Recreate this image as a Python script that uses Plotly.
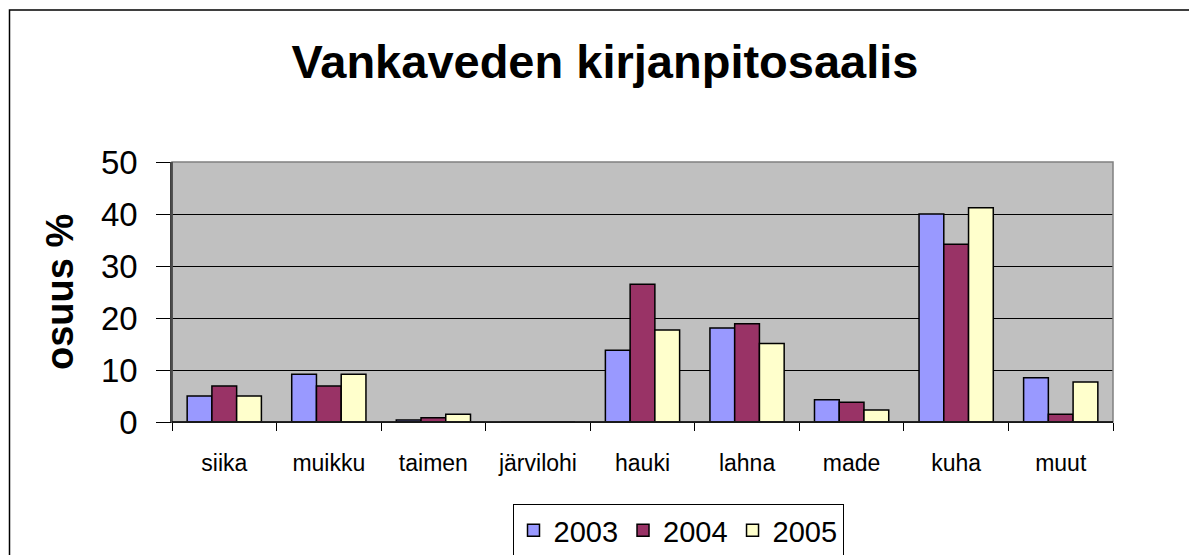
import plotly.graph_objects as go

categories = ["siika", "muikku", "taimen", "järvilohi", "hauki", "lahna", "made", "kuha", "muut"]
v2003 = [5.0, 9.2, 0.4, 0.0, 13.8, 18.1, 4.3, 40.0, 8.5]
v2004 = [6.9, 6.9, 0.8, 0.0, 26.5, 18.9, 3.8, 34.2, 1.5]
v2005 = [5.0, 9.2, 1.5, 0.0, 17.7, 15.1, 2.3, 41.2, 7.7]
series_names = ["2003", "2004", "2005"]
colors = ["#9999FF", "#993366", "#FFFFCC"]
y_ticks = [0, 10, 20, 30, 40, 50]

# page body has an 8px default margin; work in screenshot pixels and subtract it
O = 8
W, H = 1197 - O, 555 - O
L, R, T, B = 172 - O, 1113 - O, 162 - O, 422 - O
pw, ph = R - L, B - T

def px_x(px):
    return (px - O - L) / pw

def px_y(py):
    return (B - (py - O)) / ph

FONT = "Liberation Sans, Arial, sans-serif"

fig = go.Figure()
for name, vals, col in zip(series_names, [v2003, v2004, v2005], colors):
    fig.add_trace(go.Bar(
        x=categories, y=vals, name=name,
        marker=dict(color=col, line=dict(color="black", width=1.5)),
    ))

fig.update_layout(
    width=W, height=H,
    margin=dict(l=L, r=W - R, t=T, b=H - B, autoexpand=False),
    paper_bgcolor="white",
    plot_bgcolor="#C0C0C0",
    barmode="group",
    bargap=0.29,
    bargroupgap=0,
    font=dict(family=FONT, color="black"),
    title=dict(
        text="<b>Vankaveden kirjanpitosaalis</b>",
        font=dict(size=47, family=FONT, color="black"),
        x=(605 - O) / W, xanchor="center",
        y=1 - (62 - O) / H, yanchor="middle",
        xref="container", yref="container",
    ),
    showlegend=True,
    legend=dict(
        orientation="h",
        x=px_x(678), xanchor="center",
        y=px_y(504), yanchor="top",
        bgcolor="white",
        bordercolor="black", borderwidth=1,
        font=dict(size=29, family=FONT, color="black"),
        itemwidth=30,
    ),
    xaxis=dict(
        type="category",
        tickson="boundaries",
        ticks="outside", ticklen=8, tickcolor="black", tickwidth=1,
        showline=True, linecolor="black", linewidth=1,
        showgrid=False,
        tickfont=dict(size=23, family=FONT, color="black"),
        ticklabelstandoff=20,
    ),
    yaxis=dict(
        range=[0, 50],
        tickvals=y_ticks,
        ticks="outside", ticklen=14, tickcolor="black", tickwidth=1,
        showline=True, linecolor="#404040", linewidth=1.5,
        showgrid=True, gridcolor="black", gridwidth=1,
        zeroline=False,
        tickfont=dict(size=33, family=FONT, color="black"),
        ticklabelstandoff=12,
    ),
)

# plot area outline (top/right gray)
fig.add_shape(type="rect", xref="paper", yref="paper", x0=0, x1=1, y0=0, y1=1,
              line=dict(color="#808080", width=1.5), layer="above")
# left axis and bottom axis on top
fig.add_shape(type="line", xref="paper", yref="paper", x0=0, x1=0, y0=0, y1=1,
              line=dict(color="#404040", width=1.5), layer="above")
fig.add_shape(type="line", xref="paper", yref="paper", x0=0, x1=1, y0=0, y1=0,
              line=dict(color="black", width=1.5), layer="above")
# outer chart border (left and top visible, right/bottom run off the page)
fig.add_shape(type="rect", xref="paper", yref="paper",
              x0=px_x(9.5), x1=px_x(1220), y0=px_y(575), y1=px_y(10),
              line=dict(color="black", width=1.5), layer="above")

fig.add_annotation(
    text="<b>osuus %</b>", textangle=-90,
    xref="paper", yref="paper", x=px_x(60), y=px_y(292),
    xanchor="center", yanchor="middle", showarrow=False,
    font=dict(size=38, family=FONT, color="black"),
)

fig.write_html("out.html")
